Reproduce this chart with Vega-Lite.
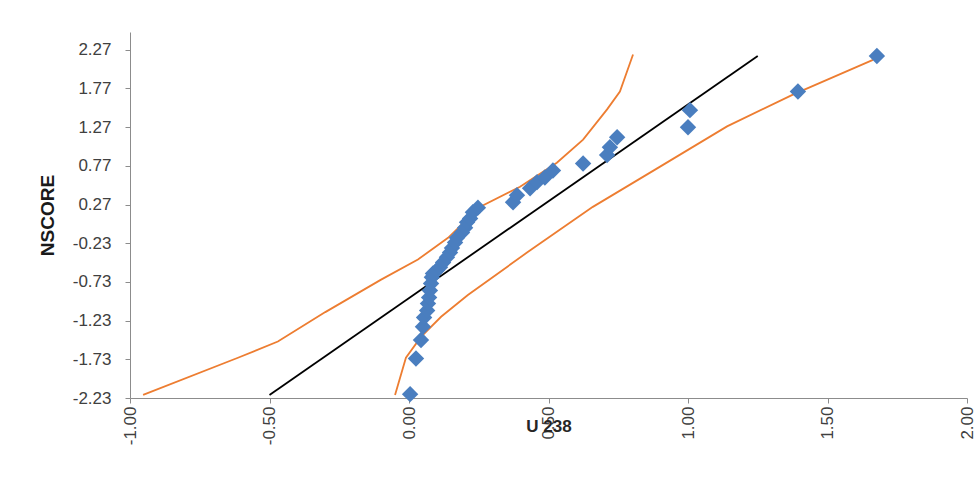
{
  "$schema": "https://vega.github.io/schema/vega-lite/v6.json",
  "width": 837,
  "height": 366,
  "autosize": {"type": "none"},
  "padding": {"left": 130, "top": 32, "right": 10, "bottom": 84},
  "background": "white",
  "config": {"view": {"stroke": null}},
  "datasets": {
    "lines": [
      {"series": "upper", "x": -0.953, "y": -2.19},
      {"series": "upper", "x": -0.613, "y": -1.71},
      {"series": "upper", "x": -0.47, "y": -1.5},
      {"series": "upper", "x": -0.3, "y": -1.12},
      {"series": "upper", "x": -0.1, "y": -0.7},
      {"series": "upper", "x": 0.032, "y": -0.44},
      {"series": "upper", "x": 0.14, "y": -0.16},
      {"series": "upper", "x": 0.254, "y": 0.24},
      {"series": "upper", "x": 0.398, "y": 0.5},
      {"series": "upper", "x": 0.53, "y": 0.81},
      {"series": "upper", "x": 0.624, "y": 1.11},
      {"series": "upper", "x": 0.71, "y": 1.5},
      {"series": "upper", "x": 0.756, "y": 1.73},
      {"series": "upper", "x": 0.803, "y": 2.21},
      {"series": "lower", "x": -0.05, "y": -2.19},
      {"series": "lower", "x": -0.011, "y": -1.71},
      {"series": "lower", "x": 0.043, "y": -1.44},
      {"series": "lower", "x": 0.115, "y": -1.18},
      {"series": "lower", "x": 0.211, "y": -0.9},
      {"series": "lower", "x": 0.423, "y": -0.35},
      {"series": "lower", "x": 0.659, "y": 0.24},
      {"series": "lower", "x": 0.9, "y": 0.76},
      {"series": "lower", "x": 1.14, "y": 1.28},
      {"series": "lower", "x": 1.376, "y": 1.69},
      {"series": "lower", "x": 1.663, "y": 2.14},
      {"series": "fit", "x": -0.5, "y": -2.19},
      {"series": "fit", "x": 1.25, "y": 2.19}
    ],
    "obs": [
      {"u238": 0.004, "nscore": -2.18},
      {"u238": 0.025, "nscore": -1.72},
      {"u238": 0.043, "nscore": -1.48},
      {"u238": 0.05, "nscore": -1.31},
      {"u238": 0.054, "nscore": -1.19},
      {"u238": 0.065, "nscore": -1.1},
      {"u238": 0.068, "nscore": -1.01},
      {"u238": 0.072, "nscore": -0.93},
      {"u238": 0.075, "nscore": -0.84},
      {"u238": 0.079, "nscore": -0.75},
      {"u238": 0.082, "nscore": -0.67},
      {"u238": 0.086, "nscore": -0.62},
      {"u238": 0.1, "nscore": -0.58},
      {"u238": 0.111, "nscore": -0.54},
      {"u238": 0.122, "nscore": -0.48},
      {"u238": 0.136, "nscore": -0.41},
      {"u238": 0.147, "nscore": -0.35},
      {"u238": 0.154, "nscore": -0.29},
      {"u238": 0.165, "nscore": -0.22},
      {"u238": 0.172, "nscore": -0.16},
      {"u238": 0.19, "nscore": -0.09},
      {"u238": 0.201, "nscore": -0.03},
      {"u238": 0.208, "nscore": 0.04},
      {"u238": 0.219, "nscore": 0.09},
      {"u238": 0.229, "nscore": 0.17},
      {"u238": 0.247, "nscore": 0.23},
      {"u238": 0.373, "nscore": 0.3},
      {"u238": 0.387, "nscore": 0.39},
      {"u238": 0.434, "nscore": 0.48},
      {"u238": 0.459, "nscore": 0.56},
      {"u238": 0.487, "nscore": 0.62},
      {"u238": 0.516, "nscore": 0.71},
      {"u238": 0.624, "nscore": 0.8},
      {"u238": 0.71, "nscore": 0.91},
      {"u238": 0.72, "nscore": 1.01},
      {"u238": 0.746, "nscore": 1.14},
      {"u238": 1.0, "nscore": 1.27},
      {"u238": 1.007, "nscore": 1.49},
      {"u238": 1.394, "nscore": 1.73},
      {"u238": 1.677, "nscore": 2.19}
    ]
  },
  "encoding": {
    "x": {
      "type": "quantitative",
      "scale": {"domain": [-1, 2], "nice": false, "zero": false},
      "axis": {
        "title": "U 238",
        "values": [-1, -0.5, 0, 0.5, 1, 1.5, 2],
        "format": ".2f",
        "labelExpr": "replace(datum.label, '−', '-')",
        "labelAngle": -90,
        "labelFont": "Liberation Sans",
        "labelFontSize": 17,
        "labelColor": "#404040",
        "labelPadding": 3,
        "labelOverlap": false,
        "labelFlush": false,
        "grid": false,
        "domainColor": "#8c8c8c",
        "tickColor": "#8c8c8c",
        "tickSize": 5,
        "titleFont": "Liberation Sans",
        "titleFontSize": 17,
        "titleFontWeight": "bold",
        "titleColor": "#262626",
        "titleBaseline": "middle",
        "titleY": 28
      }
    },
    "y": {
      "type": "quantitative",
      "scale": {"domain": [-2.23, 2.5], "nice": false, "zero": false},
      "axis": {
        "title": "NSCORE",
        "values": [-2.23, -1.73, -1.23, -0.73, -0.23, 0.27, 0.77, 1.27, 1.77, 2.27],
        "format": ".2f",
        "labelExpr": "replace(datum.label, '−', '-')",
        "labelFont": "Liberation Sans",
        "labelFontSize": 17,
        "labelColor": "#404040",
        "labelPadding": 14,
        "labelOverlap": false,
        "labelFlush": false,
        "grid": false,
        "domainColor": "#8c8c8c",
        "tickColor": "#8c8c8c",
        "tickSize": 5,
        "titleFont": "Liberation Sans",
        "titleFontSize": 19,
        "titleFontWeight": "bold",
        "titleColor": "#1a1a1a",
        "titleAngle": -90,
        "titleAlign": "center",
        "titleBaseline": "middle",
        "titleX": -83,
        "titleY": 183
      }
    }
  },
  "layer": [
    {
      "data": {"name": "lines"},
      "mark": {"type": "line", "strokeWidth": 1.8, "clip": true},
      "encoding": {
        "x": {"field": "x", "type": "quantitative"},
        "y": {"field": "y", "type": "quantitative"},
        "order": {"field": "y", "type": "quantitative"},
        "color": {
          "field": "series",
          "type": "nominal",
          "scale": {"domain": ["upper", "lower", "fit"], "range": ["#ED7D31", "#ED7D31", "#000000"]},
          "legend": null
        }
      }
    },
    {
      "data": {"name": "obs"},
      "mark": {"type": "point", "shape": "diamond", "filled": true, "size": 270, "color": "#4A7EBF", "opacity": 1},
      "encoding": {
        "x": {"field": "u238", "type": "quantitative"},
        "y": {"field": "nscore", "type": "quantitative"}
      }
    }
  ]
}
